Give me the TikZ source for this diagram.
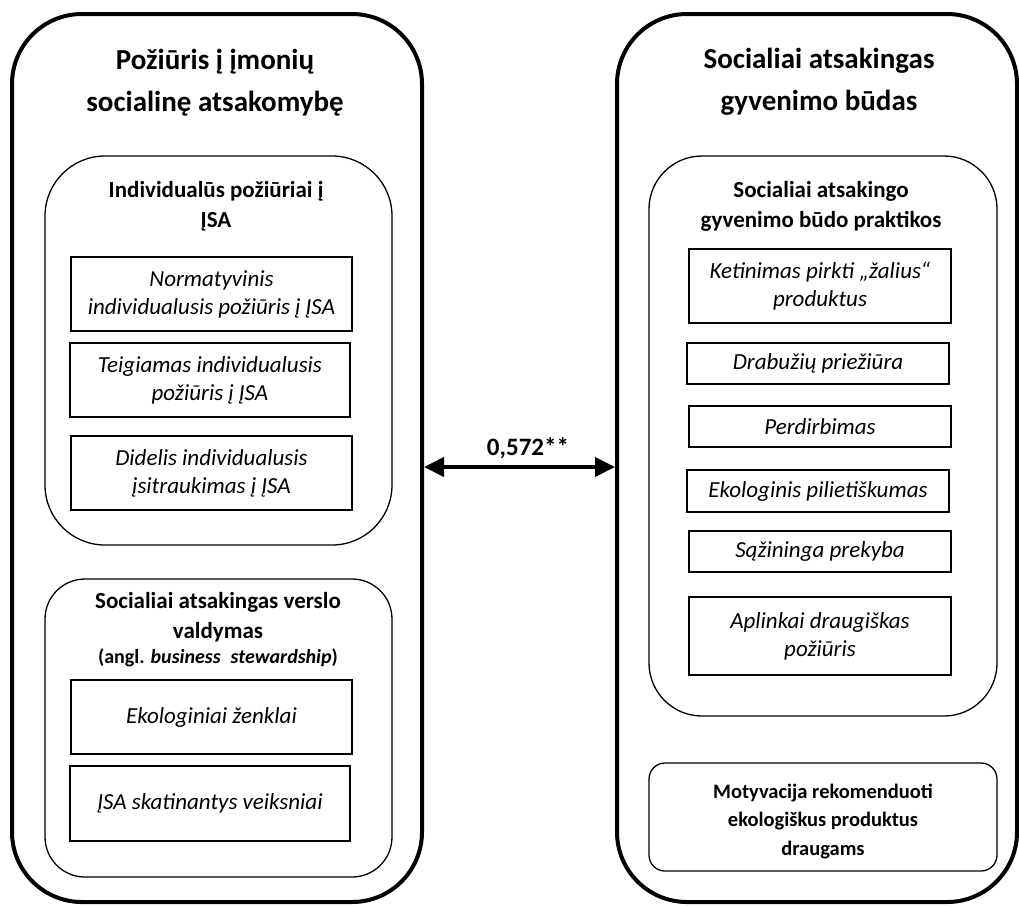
\documentclass[tikz,border=0pt]{standalone}
\usepackage{fontspec}
\setmainfont{Carlito}
\usetikzlibrary{arrows.meta}
\tikzset{
  outerbox/.style={draw, line width=4pt, rounded corners=70pt, inner sep=0pt},
  groupbox/.style={draw, line width=1.3pt, rounded corners=55pt, inner sep=0pt},
  itembox/.style={draw, line width=1.5pt, inner sep=0pt, align=center,
    font=\itshape\fontsize{23}{28}\selectfont},
  % anchor=base sits on the baseline of the last line
  bigtitle/.style={anchor=base, align=center, font=\bfseries\fontsize{29}{42}\selectfont},
  grouptitle/.style={anchor=base, align=center, font=\bfseries\fontsize{23}{30}\selectfont},
}
\begin{document}
\begin{tikzpicture}[x=1pt,y=-1pt]
\useasboundingbox (0,0) rectangle (1019,906);

% two main blocks
\node[outerbox, minimum width=410pt, minimum height=888pt] (lout) at (217,458) {};
\node[outerbox, minimum width=400pt, minimum height=888pt] (rout) at (817,458) {};
\node[bigtitle] (ltitle) at (215,111) {Požiūris į įmonių\\socialinę atsakomybę};
\node[bigtitle] (rtitle) at (819,110) {Socialiai atsakingas\\gyvenimo būdas};

% left block: individual attitudes
\node[groupbox, rounded corners=60pt, minimum width=347pt, minimum height=389pt] (lg1) at (218.5,350.5) {};
\node[grouptitle] (lg1t) at (216,227) {Individualūs požiūriai į\\ĮSA};
\node[itembox, minimum width=281pt, minimum height=74pt] (a1) at (211.5,294) {Normatyvinis\\individualusis požiūris į ĮSA};
\node[itembox, minimum width=280pt, minimum height=74pt] (a2) at (210,380) {Teigiamas individualusis\\požiūris į ĮSA};
\node[itembox, minimum width=281pt, minimum height=74pt] (a3) at (211.5,473) {Didelis individualusis\\įsitraukimas į ĮSA};

% left block: business stewardship
\node[groupbox, rounded corners=40pt, minimum width=347pt, minimum height=298pt] (lg2) at (218.5,728) {};
\node[grouptitle] (lg2t) at (218,663) {Socialiai atsakingas verslo\\valdymas\\[-5pt]{\fontsize{20}{24}\selectfont (angl. \textit{business\enspace stewardship})}};
\node[itembox, minimum width=281pt, minimum height=74pt] (b1) at (211.5,717) {Ekologiniai ženklai};
\node[itembox, minimum width=280pt, minimum height=75pt] (b2) at (210,803.5) {ĮSA skatinantys veiksniai};

% right block: practices
\node[groupbox, rounded corners=53pt, minimum width=348pt, minimum height=560pt] (rg1) at (823,436) {};
\node[grouptitle] (rg1t) at (821,227) {Socialiai atsakingo\\gyvenimo būdo praktikos};
\node[itembox, minimum width=262pt, minimum height=74pt] (c1) at (820,286) {Ketinimas pirkti „žalius“\\produktus};
\node[itembox, minimum width=262pt, minimum height=41pt] (c2) at (818,363.5) {Drabužių priežiūra};
\node[itembox, minimum width=262pt, minimum height=41pt] (c3) at (820,426.5) {Perdirbimas};
\node[itembox, minimum width=262pt, minimum height=42pt] (c4) at (818,491) {Ekologinis pilietiškumas};
\node[itembox, minimum width=262pt, minimum height=41pt] (c5) at (820,551.5) {Sąžininga prekyba};
\node[itembox, minimum width=262pt, minimum height=78pt] (c6) at (820,636) {Aplinkai draugiškas\\požiūris};

% right block: motivation
\node[draw, line width=1.3pt, rounded corners=16pt, minimum width=348pt, minimum height=108pt] (rg2) at (823,817) {};
\node[anchor=base, align=center, font=\bfseries\fontsize{20.5}{28.5}\selectfont] (rg2t) at (823,855)
  {Motyvacija rekomenduoti\\ekologiškus produktus\\draugams};

% correlation between the two blocks
\coordinate (ay) at (0,467);
\draw[line width=4pt, {Triangle[length=20pt,width=19pt]}-{Triangle[length=20pt,width=19pt]}]
  (lout.east |- ay) -- (rout.west |- ay);
\node[anchor=base, font=\bfseries\fontsize{25}{30}\selectfont] (corr) at (528,455) {0,572**};
\end{tikzpicture}
\end{document}
